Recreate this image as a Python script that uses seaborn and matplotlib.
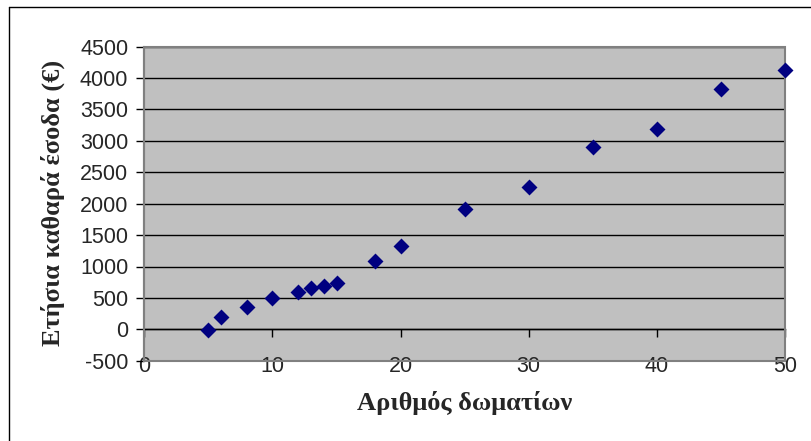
import matplotlib
matplotlib.use("Agg")
import matplotlib.pyplot as plt
from matplotlib.patches import Rectangle
from matplotlib.lines import Line2D
import seaborn as sns
import pandas as pd

rooms = [5, 6, 8, 10, 12, 13, 14, 15, 18, 20, 25, 30, 35, 40, 45, 50]
income = [-10, 190, 350, 505, 600, 665, 690, 730, 1095, 1330, 1920, 2270, 2900, 3190, 3820, 4130]
x_ticks = [0, 10, 20, 30, 40, 50]
y_ticks = [-500, 0, 500, 1000, 1500, 2000, 2500, 3000, 3500, 4000, 4500]
x_label = "Αριθμός δωματίων"
y_label = "Ετήσια καθαρά έσοδα (€)"

df = pd.DataFrame({"rooms": rooms, "income": income})

sns.set_style("white")
plt.rcParams['font.family'] = ['Liberation Sans', 'DejaVu Sans']

fig = plt.figure(figsize=(8.11, 4.41), dpi=100)
ax = fig.add_axes([144.3 / 811, 1 - 360.7 / 441, (785 - 144.3) / 811, (360.7 - 46.7) / 441])
ax.set_facecolor("#C0C0C0")

for yv in y_ticks[1:]:
    ax.axhline(yv, color="black", lw=1.0, zorder=1)

sns.scatterplot(data=df, x="rooms", y="income", marker="D", s=66,
                color="#000080", edgecolor="#000080", linewidth=0, ax=ax, zorder=5,
                clip_on=False)

ax.set_xlim(0, 50)
ax.set_ylim(-500, 4500)
ax.set_xticks(x_ticks)
ax.set_yticks(y_ticks)
ax.set_yticklabels([str(v) for v in y_ticks])
ax.set_xticklabels([str(v) for v in x_ticks])

for s in ["top", "right"]:
    ax.spines[s].set_visible(False)
ax.spines["bottom"].set_position(("data", 0))
ax.spines["bottom"].set_color("black")
ax.spines["bottom"].set_linewidth(1.0)
ax.spines["left"].set_color("#808080")
ax.spines["left"].set_linewidth(1.5)

ax.tick_params(axis="y", direction="out", length=5.5, width=1, color="black", pad=6,
               left=True, labelsize=15.5)
ax.tick_params(axis="x", direction="out", length=6, width=1, color="black", pad=13,
               bottom=True, labelsize=15.5)

ax.add_patch(Rectangle((0, 0), 1, 1, transform=ax.transAxes, fill=False,
                       edgecolor="#808080", lw=1.5, zorder=4, clip_on=False))

ax.set_xlabel("")
ax.set_ylabel("")
fig.text(464.5 / 811, 1 - 403 / 441, x_label, ha="center", va="center",
         fontsize=19, fontweight="bold", family="Liberation Serif")
fig.text(53 / 811, 1 - 203 / 441, y_label, ha="center", va="center", rotation=90,
         fontsize=19, fontweight="bold", family="Liberation Serif")

fig.add_artist(Line2D([9 / 811, 9 / 811], [1 - 7.3 / 441, 0], transform=fig.transFigure,
                      color="black", lw=1))
fig.add_artist(Line2D([9 / 811, 1], [1 - 7.3 / 441, 1 - 7.3 / 441], transform=fig.transFigure,
                      color="black", lw=1))

fig.savefig("out.png", dpi=100)
